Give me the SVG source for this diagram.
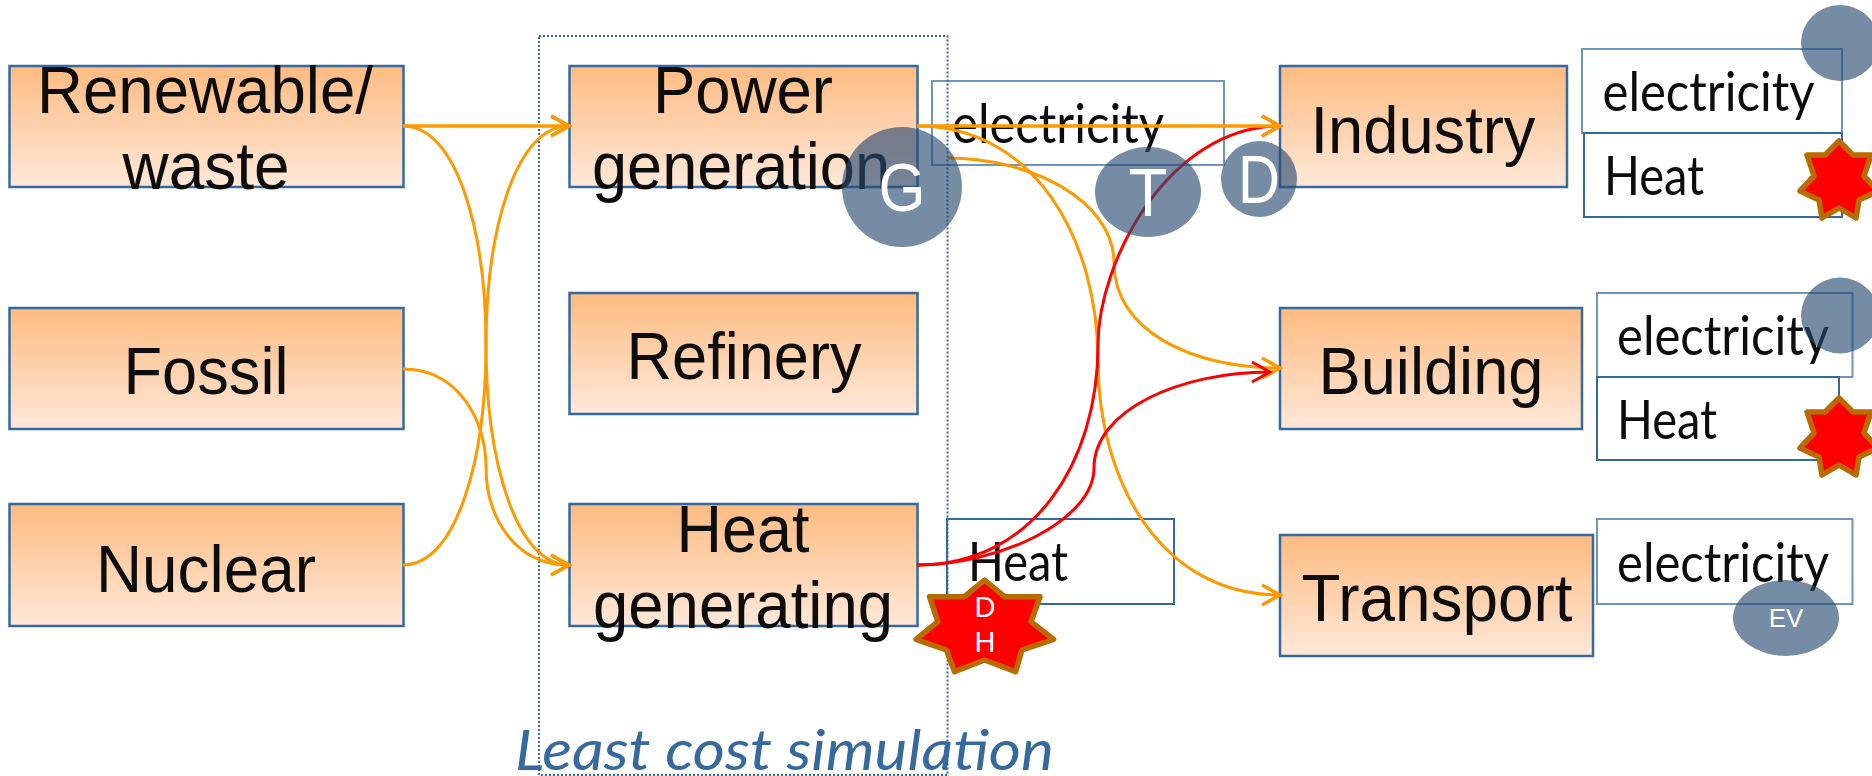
<svg xmlns="http://www.w3.org/2000/svg" width="1872" height="776" viewBox="0 0 1872 776">
<style>
text{font-family:"Liberation Sans",Arial,sans-serif}
.n rect{fill:url(#g);stroke:#366a9e;stroke-width:2.5}
.n text{font-size:67px;fill:#0d0d0d;text-anchor:middle}
.b rect{fill:#fff;stroke:#366a9e;stroke-width:2}
.l rect{stroke:#6f95bf}
.b text{font-family:Lato,"Noto Sans",sans-serif;font-size:54px;fill:#0d0d0d}
.sim{font-family:Lato,"Noto Sans",sans-serif;font-style:italic;font-size:56px;fill:#366a9e}
.c{fill:#294971;opacity:.64}
.w{fill:#fff;text-anchor:middle}
.s{fill:#f00;stroke:#b96a00;stroke-width:5.5;stroke-linejoin:round}
#connectors path{fill:none;stroke-width:3}
#connectors .o{stroke:#f90;marker-end:url(#ao)}
#connectors .r{stroke:#f00;marker-end:url(#ar)}
#connectors .t{stroke-width:3.5}
</style>
<defs>
<linearGradient id="g" x1="0" y1="0" x2="0" y2="1"><stop offset="0" stop-color="#fdbb80"/><stop offset="1" stop-color="#ffe8d9"/></linearGradient>
<marker id="ao" markerUnits="userSpaceOnUse" orient="auto" markerWidth="30" markerHeight="30" refX="21" refY="15" overflow="visible"><path d="M3,5 L21,15 L3,25" fill="none" stroke="#f90" stroke-width="3.500"/></marker>
<marker id="ar" markerUnits="userSpaceOnUse" orient="auto" markerWidth="30" markerHeight="30" refX="21" refY="15" overflow="visible"><path d="M3,5 L21,15 L3,25" fill="none" stroke="#f00" stroke-width="3"/></marker>
<polygon id="star" points="0,0 14,14 32,14 25,35 39,50 20,59 17,77 0,67 -17,77 -20,59 -39,50 -25,35 -32,14 -14,14"/>
</defs>

<g id="renewable" class="n"><rect x="9.500" y="66" width="394" height="121"/><text x="205" y="113" textLength="336" lengthAdjust="spacingAndGlyphs">Renewable/</text><text x="206" y="189" textLength="167" lengthAdjust="spacingAndGlyphs">waste</text></g>
<g id="fossil" class="n"><rect x="9.500" y="308" width="394" height="121"/><text x="206" y="394" textLength="165" lengthAdjust="spacingAndGlyphs">Fossil</text></g>
<g id="nuclear" class="n"><rect x="9.500" y="504" width="394" height="122"/><text x="206" y="592" textLength="220" lengthAdjust="spacingAndGlyphs">Nuclear</text></g>
<g id="power" class="n"><rect x="569.500" y="66" width="348" height="121"/><text x="743" y="113" textLength="180" lengthAdjust="spacingAndGlyphs">Power</text><text x="741" y="189" textLength="298" lengthAdjust="spacingAndGlyphs">generation</text></g>
<g id="refinery" class="n"><rect x="569.500" y="293" width="348" height="121"/><text x="744" y="379" textLength="235" lengthAdjust="spacingAndGlyphs">Refinery</text></g>
<g id="heatgen" class="n"><rect x="569.500" y="504" width="348" height="122"/><text x="743" y="552" textLength="133" lengthAdjust="spacingAndGlyphs">Heat</text><text x="743" y="628" textLength="300" lengthAdjust="spacingAndGlyphs">generating</text></g>
<g id="industry" class="n"><rect x="1280" y="66" width="287" height="121"/><text x="1423" y="153" textLength="225" lengthAdjust="spacingAndGlyphs">Industry</text></g>
<g id="building" class="n"><rect x="1280" y="308" width="302" height="121"/><text x="1431" y="394" textLength="225" lengthAdjust="spacingAndGlyphs">Building</text></g>
<g id="transport" class="n"><rect x="1280" y="535" width="313" height="121"/><text x="1437" y="621" textLength="271" lengthAdjust="spacingAndGlyphs">Transport</text></g>

<g id="elec-mid" class="b l"><rect x="932" y="81" width="292" height="84"/><text x="952" y="143" textLength="212" lengthAdjust="spacingAndGlyphs">electricity</text></g>
<g id="heat-mid" class="b"><rect x="947" y="519" width="227" height="85"/><text x="968" y="581" textLength="100" lengthAdjust="spacingAndGlyphs">Heat</text></g>
<g id="elec-ind" class="b l"><rect x="1582" y="49" width="260" height="84"/><text x="1602.500" y="111" textLength="212" lengthAdjust="spacingAndGlyphs">electricity</text></g>
<g id="heat-ind" class="b"><rect x="1584" y="133" width="258" height="84"/><text x="1604" y="195" textLength="100" lengthAdjust="spacingAndGlyphs">Heat</text></g>
<g id="elec-bld" class="b l"><rect x="1597" y="293" width="255.500" height="84"/><text x="1617" y="355" textLength="212" lengthAdjust="spacingAndGlyphs">electricity</text></g>
<g id="heat-bld" class="b"><rect x="1597" y="377" width="242" height="83"/><text x="1617" y="439" textLength="100" lengthAdjust="spacingAndGlyphs">Heat</text></g>
<g id="elec-trn" class="b l"><rect x="1597" y="519" width="255.500" height="85"/><text x="1617" y="582" textLength="212" lengthAdjust="spacingAndGlyphs">electricity</text></g>

<g id="simulation"><rect x="539" y="36" width="408.500" height="739" fill="none" stroke="#366a9e" stroke-width="2" stroke-dasharray="2 2"/><text class="sim" x="515" y="770" textLength="539" lengthAdjust="spacingAndGlyphs">Least cost simulation</text></g>

<g id="connectors">
<path class="o t" d="M403,126 L569,126"/>
<path class="o" d="M403,126 C458,126 486,235 486,345 C486,455 514,565 569,565"/>
<path class="o" d="M403,565 C458,565 486,455 486,345 C486,235 514,126 569,126"/>
<path class="o" d="M403,369 C458,369 486,420 486,467 C486,516 514,565 569,565"/>
<path class="o" d="M917,126 C1035,126 1098,240 1098,361 C1098,480 1160,595 1280,595"/>
<path class="o" d="M948,158 C1030,158 1114,200 1114,263 C1114,330 1190,368 1280,368"/>
<path class="r" d="M917,565 C1035,565 1098,460 1098,345 C1098,260 1170,126 1280,126"/>
<path class="r" d="M917,565 C1000,565 1094,520 1094,468 C1094,410 1180,372 1270,372"/>
<path class="o t" d="M917,126 L1280,126"/>
</g>

<g id="G"><ellipse class="c" cx="902" cy="187" rx="60" ry="60"/><text class="w" x="902" y="211" font-size="68" textLength="47" lengthAdjust="spacingAndGlyphs">G</text></g>
<g id="T"><ellipse class="c" cx="1148" cy="192" rx="53" ry="45"/><text class="w" x="1148" y="216" font-size="68" textLength="39" lengthAdjust="spacingAndGlyphs">T</text></g>
<g id="D"><ellipse class="c" cx="1259" cy="179" rx="38" ry="38"/><text class="w" x="1259" y="203" font-size="68" textLength="42" lengthAdjust="spacingAndGlyphs">D</text></g>
<g id="c-ind"><ellipse class="c" cx="1840" cy="43" rx="39" ry="38"/></g>
<g id="c-bld"><ellipse class="c" cx="1840" cy="315.500" rx="39" ry="38"/></g>
<g id="EV"><ellipse class="c" cx="1786" cy="618" rx="53" ry="38"/><text class="w" x="1786" y="627" font-size="26">EV</text></g>

<g id="DH"><polygon class="s" points="984.500,580 1004.500,596.700 1040,596.700 1031,621.700 1053.600,639.300 1022,650 1015.600,671.700 984.500,660 954.500,671.700 946.400,650 916,639.300 937.800,621.700 929.500,596.700 964.300,596.700"/><text class="w" x="985" y="617" font-size="29">D</text><text class="w" x="985" y="652" font-size="29">H</text></g>
<g id="star-ind"><use href="#star" class="s" x="1839" y="141"/></g>
<g id="star-bld"><use href="#star" class="s" x="1839" y="398"/></g>
</svg>
